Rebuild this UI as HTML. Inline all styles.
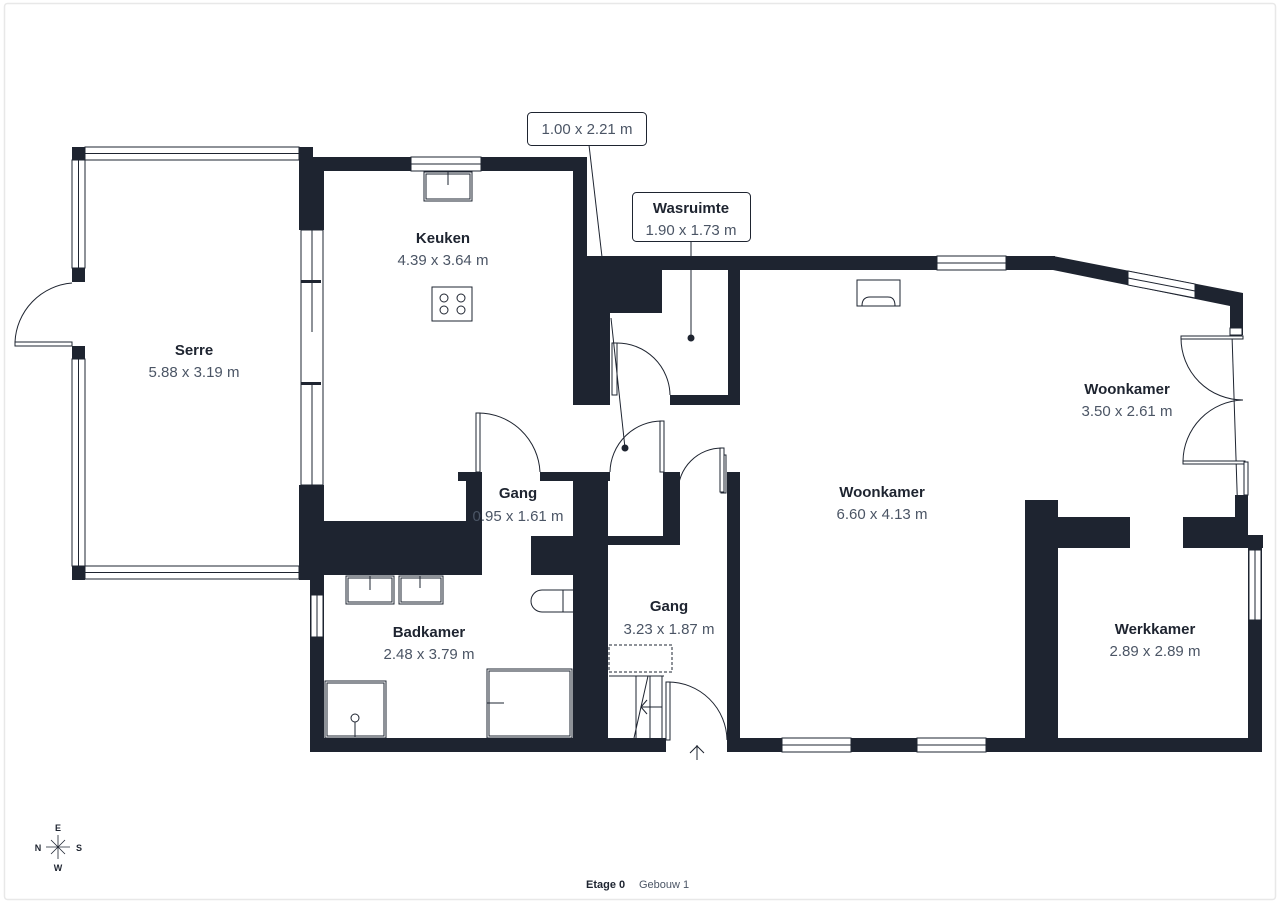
<!DOCTYPE html>
<html><head><meta charset="utf-8"><style>
html,body{margin:0;padding:0;background:#fff;}
svg{display:block;}
text{font-family:"Liberation Sans",sans-serif;}
.t{font-weight:bold;font-size:15px;fill:#1e2430;text-anchor:middle;}
.d{font-size:15px;fill:#4b5565;text-anchor:middle;}
.w{fill:#1e2430;}
.g{fill:#fff;stroke:#1e2430;stroke-width:1;}
.l{fill:none;stroke:#1e2430;stroke-width:1;}
</style></head><body>
<svg width="1280" height="905" viewBox="0 0 1280 905" xmlns="http://www.w3.org/2000/svg">
<rect x="4.5" y="3.5" width="1271" height="896" rx="3" fill="#fff" stroke="#e8e8e8" stroke-width="1.5"/>

<!-- Serre glass walls -->
<rect class="g" x="85" y="147" width="214" height="13"/>
<line class="l" x1="85" y1="153.5" x2="299" y2="153.5"/>
<rect class="g" x="85" y="566" width="214" height="13"/>
<line class="l" x1="85" y1="572.5" x2="299" y2="572.5"/>
<rect class="g" x="72" y="160" width="13" height="108"/>
<line class="l" x1="78.5" y1="160" x2="78.5" y2="268"/>
<rect class="g" x="72" y="359" width="13" height="207"/>
<line class="l" x1="78.5" y1="359" x2="78.5" y2="566"/>
<rect class="w" x="72" y="147" width="13" height="13"/>
<rect class="w" x="72" y="566" width="13" height="14"/>
<rect class="w" x="72" y="268" width="13" height="14"/>
<rect class="w" x="72" y="346" width="13" height="13"/>
<!-- serre door -->
<rect class="g" x="15" y="342" width="57" height="4"/>
<path class="l" d="M15 342 A62 62 0 0 1 72 283"/>

<!-- Kitchen walls -->
<rect class="w" x="299" y="147" width="14" height="13"/>
<rect class="w" x="299" y="157" width="25" height="73"/>
<rect class="w" x="313" y="157" width="98" height="14"/>
<rect class="g" x="411" y="157" width="70" height="14"/>
<line class="l" x1="411" y1="164" x2="481" y2="164"/>
<rect class="w" x="481" y="157" width="106" height="14"/>
<rect class="w" x="573" y="157" width="14" height="110"/>
<!-- kitchen left glass -->
<rect class="g" x="301" y="230" width="22" height="255"/>
<line class="l" x1="312" y1="230" x2="312" y2="332"/>
<line class="l" x1="312" y1="385" x2="312" y2="485"/>
<rect class="w" x="301" y="280" width="20" height="3"/>
<rect class="w" x="301" y="382" width="20" height="3"/>
<rect class="w" x="299" y="485" width="25" height="95"/>
<!-- sink & stove -->
<rect class="g" x="424" y="172" width="48" height="29"/>
<rect class="l" x="426" y="174" width="44" height="25"/>
<line class="l" x1="448" y1="172" x2="448" y2="185"/>
<rect class="g" x="432" y="287" width="40" height="34"/>
<circle class="l" cx="444" cy="298" r="4"/><circle class="l" cx="461" cy="298" r="4"/>
<circle class="l" cx="444" cy="310" r="4"/><circle class="l" cx="461" cy="310" r="4"/>

<!-- wasruimte -->
<rect class="w" x="586" y="256" width="469" height="14"/>
<rect class="g" x="937" y="256" width="69" height="14"/>
<line class="l" x1="937" y1="263" x2="1006" y2="263"/>
<rect class="w" x="573" y="257" width="89" height="56"/>
<rect class="w" x="573" y="300" width="37" height="105"/>
<rect class="w" x="728" y="264" width="12" height="141"/>
<rect class="w" x="670" y="395" width="70" height="10"/>
<rect class="g" x="612" y="343" width="5" height="52"/>
<path class="l" d="M617 343 A53 53 0 0 1 670 395"/>

<!-- diagonal top wall -->
<polygon class="w" points="1053,256 1243,293 1243,335 1230,335 1230,306 1053,270"/>
<polygon class="g" points="1128,271 1195,284 1195,298 1128,285"/>
<line class="l" x1="1128" y1="278" x2="1195" y2="291"/>
<rect class="g" x="1230" y="328" width="12" height="7"/>
<!-- french doors -->
<line class="l" x1="1232" y1="335" x2="1238" y2="520"/>
<rect class="g" x="1181" y="336" width="62" height="3"/>
<path class="l" d="M1181 338 A62 62 0 0 0 1243 400"/>
<rect class="g" x="1183" y="461" width="62" height="3"/>
<path class="l" d="M1183 461 A62 62 0 0 1 1243 400"/>
<rect class="g" x="1244" y="462" width="4" height="33"/>
<rect class="w" x="1235" y="495" width="13" height="53"/>
<rect class="w" x="1183" y="517" width="65" height="31"/>
<rect class="w" x="1236" y="535" width="27" height="13"/>

<!-- werkkamer -->
<rect class="w" x="1025" y="500" width="33" height="252"/>
<rect class="w" x="1058" y="517" width="72" height="31"/>
<rect class="w" x="1248" y="548" width="14" height="204"/>
<rect class="g" x="1249" y="550" width="12" height="70"/>
<line class="l" x1="1255" y1="550" x2="1255" y2="620"/>

<!-- bottom walls -->
<rect class="w" x="727" y="738" width="535" height="14"/>
<rect class="g" x="782" y="738" width="69" height="14"/>
<line class="l" x1="782" y1="745" x2="851" y2="745"/>
<rect class="g" x="917" y="738" width="69" height="14"/>
<line class="l" x1="917" y1="745" x2="986" y2="745"/>
<rect class="w" x="727" y="472" width="13" height="280"/>
<rect class="g" x="721" y="455" width="5" height="38"/>

<!-- gang/bathroom walls -->
<rect class="w" x="540" y="472" width="70" height="9"/>
<rect class="w" x="573" y="472" width="35" height="280"/>
<rect class="w" x="458" y="472" width="18" height="9"/>
<rect class="w" x="466" y="472" width="16" height="103"/>
<rect class="w" x="299" y="521" width="183" height="54"/>
<rect class="w" x="531" y="536" width="45" height="39"/>
<rect class="w" x="608" y="536" width="65" height="9"/>
<rect class="w" x="663" y="472" width="17" height="73"/>
<rect class="w" x="310" y="575" width="14" height="177"/>
<rect class="g" x="311" y="595" width="12" height="42"/>
<line class="l" x1="317" y1="595" x2="317" y2="637"/>
<rect class="w" x="310" y="738" width="356" height="14"/>

<!-- doors -->
<rect class="g" x="476" y="413" width="4" height="59"/>
<path class="l" d="M478 413 A62 62 0 0 1 540 472"/>
<rect class="g" x="660" y="421" width="4" height="51"/>
<path class="l" d="M662 421 A52 52 0 0 0 610 472"/>
<rect class="g" x="720" y="448" width="4" height="44"/>
<path class="l" d="M722 448 A44 44 0 0 0 678 492"/>
<rect class="g" x="666" y="682" width="4" height="58"/>
<path class="l" d="M668 682 A59 59 0 0 1 727 740"/>

<!-- bathroom fixtures -->
<rect class="g" x="346" y="576" width="48" height="28"/>
<rect class="l" x="348" y="578" width="44" height="24"/>
<line class="l" x1="370" y1="576" x2="370" y2="590"/>
<rect class="g" x="399" y="576" width="44" height="28"/>
<rect class="l" x="401" y="578" width="40" height="24"/>
<line class="l" x1="420" y1="576" x2="420" y2="588"/>
<path class="l" d="M573 590 L542 590 A11 11 0 0 0 542 612 L573 612"/>
<line class="l" x1="563" y1="590" x2="563" y2="612"/>
<rect class="g" x="325" y="681" width="61" height="57"/>
<rect class="l" x="327" y="683" width="57" height="53"/>
<circle class="l" cx="355" cy="718" r="4"/>
<line class="l" x1="355" y1="722" x2="355" y2="737"/>
<rect class="g" x="487" y="669" width="85" height="69"/>
<rect class="l" x="489" y="671" width="81" height="65"/>
<line class="l" x1="487" y1="703" x2="504" y2="703"/>

<!-- stairs -->
<rect x="609" y="645" width="63" height="27" fill="none" stroke="#1e2430" stroke-width="1" stroke-dasharray="3,2"/>
<line class="l" x1="609" y1="676" x2="664" y2="676"/>
<line class="l" x1="636" y1="676" x2="636" y2="738"/>
<line class="l" x1="650" y1="676" x2="650" y2="738"/>
<line class="l" x1="662" y1="676" x2="662" y2="738"/>
<line class="l" x1="648" y1="676" x2="634" y2="738"/>
<line class="l" x1="641" y1="707" x2="662" y2="707"/>
<polyline class="l" points="647,700 641,707 647,714"/>
<!-- entry arrow -->
<line class="l" x1="697" y1="745" x2="697" y2="760"/>
<polyline class="l" points="690,753 697,746 704,753"/>

<!-- label boxes & leaders -->
<line class="l" x1="589" y1="145" x2="602" y2="257"/>
<line class="l" x1="611" y1="318" x2="625" y2="448"/>
<circle cx="625" cy="448" r="3.5" fill="#1e2430"/>
<rect x="527.5" y="112.5" width="119" height="33" rx="4" fill="#fff" stroke="#1e2430"/>
<text class="d" x="587" y="134">1.00 x 2.21 m</text>
<line class="l" x1="691" y1="242" x2="691" y2="338"/>
<circle cx="691" cy="338" r="3.5" fill="#1e2430"/>
<rect x="632.5" y="192.5" width="118" height="49" rx="4" fill="#fff" stroke="#1e2430"/>
<text class="t" x="691" y="213">Wasruimte</text>
<text class="d" x="691" y="235">1.90 x 1.73 m</text>

<!-- fireplace -->
<rect class="g" x="857" y="280" width="43" height="26"/>
<path class="l" d="M862 306 Q862 297 870 297 L888 297 Q895 297 895 306"/>

<!-- labels -->
<text class="t" x="443" y="243">Keuken</text><text class="d" x="443" y="265">4.39 x 3.64 m</text>
<text class="t" x="194" y="355">Serre</text><text class="d" x="194" y="377">5.88 x 3.19 m</text>
<text class="t" x="1127" y="394">Woonkamer</text><text class="d" x="1127" y="416">3.50 x 2.61 m</text>
<text class="t" x="882" y="497">Woonkamer</text><text class="d" x="882" y="519">6.60 x 4.13 m</text>
<text class="t" x="518" y="498">Gang</text><text class="d" x="518" y="521">0.95 x 1.61 m</text>
<text class="t" x="669" y="611">Gang</text><text class="d" x="669" y="634">3.23 x 1.87 m</text>
<text class="t" x="429" y="637">Badkamer</text><text class="d" x="429" y="659">2.48 x 3.79 m</text>
<text class="t" x="1155" y="634">Werkkamer</text><text class="d" x="1155" y="656">2.89 x 2.89 m</text>

<!-- compass -->
<g stroke="#1e2430" stroke-width="0.8">
<line x1="46" y1="847" x2="70" y2="847"/><line x1="58" y1="835" x2="58" y2="859"/>
<line x1="51" y1="840" x2="65" y2="854"/><line x1="65" y1="840" x2="51" y2="854"/>
</g>
<text x="58" y="831" font-size="9" font-weight="bold" text-anchor="middle" fill="#1e2430">E</text>
<text x="58" y="871" font-size="9" font-weight="bold" text-anchor="middle" fill="#1e2430">W</text>
<text x="38" y="851" font-size="9" font-weight="bold" text-anchor="middle" fill="#1e2430">N</text>
<text x="79" y="851" font-size="9" font-weight="bold" text-anchor="middle" fill="#1e2430">S</text>

<text x="586" y="888" font-size="11" font-weight="bold" fill="#1e2430">Etage 0</text>
<text x="639" y="888" font-size="11" fill="#4b5565">Gebouw 1</text>
</svg>
</body></html>
